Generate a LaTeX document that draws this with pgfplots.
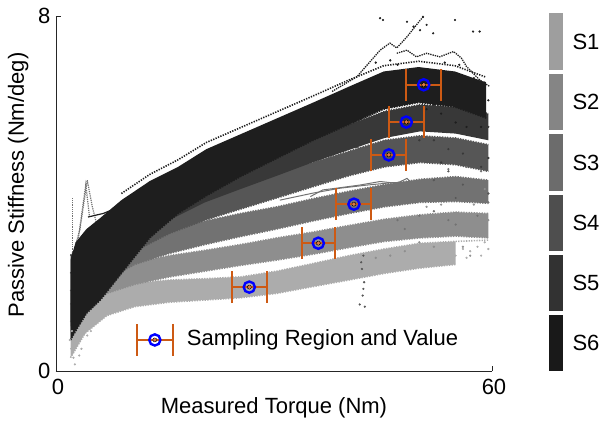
\documentclass[border=0pt]{standalone}
\usepackage{fontspec}
\setmainfont{Liberation Sans}
\usepackage{pgfplots}
\pgfplotsset{compat=1.18}
\definecolor{cA}{RGB}{172,172,172}
\definecolor{cB}{RGB}{142,142,142}
\definecolor{cC}{RGB}{114,114,114}
\definecolor{cD}{RGB}{86,86,86}
\definecolor{cE}{RGB}{56,56,56}
\definecolor{cF}{RGB}{30,30,30}
\definecolor{bA}{RGB}{158,158,158}
\definecolor{bB}{RGB}{133,133,133}
\definecolor{bC}{RGB}{108,108,108}
\definecolor{bD}{RGB}{78,78,78}
\definecolor{bE}{RGB}{50,50,50}
\definecolor{bF}{RGB}{25,25,25}
\definecolor{eb}{RGB}{205,90,20}
\begin{document}
\begin{tikzpicture}[font=\fontsize{22}{26}\selectfont]
\useasboundingbox (-56pt,-55pt) rectangle (550pt,371pt);
\begin{axis}[
  at={(0pt,0pt)}, anchor=south west, scale only axis, width=436pt, height=355pt,
  xmin=0, xmax=60, ymin=0, ymax=8,
  axis x line=bottom, axis y line=left,
  axis line style={-, line width=0.9pt, black!85},
  xtick={0,60}, ytick={0,8}, tick align=inside, major tick length=5pt,
  tick style={line width=0.9pt, black!85},
  /pgf/number format/assume math mode=true,
  xlabel={Measured Torque (Nm)}, ylabel={Passive Stiffness (Nm/deg)},
  xlabel style={at={(axis description cs:0.5,-0.104)}, anchor=center},
  ylabel style={at={(axis description cs:-0.087,0.524)}, anchor=center},
  ticklabel style={font=\fontsize{22}{26}\selectfont},
  xticklabel style={yshift=-5pt, xshift=2pt},
  yticklabel style={xshift=-2pt},
  clip=false,
  bd/.style={line width=1.6pt, dash pattern=on 1.3pt off 1.3pt},
  sc/.style={only marks, mark=*, mark size=0.9pt},
]
% ---------- S1 ----------
\addplot[fill=cA, draw=none] coordinates {(2,0.3) (4,0.85) (7,1.25) (10.8,1.45) (15.6,1.55) (20.5,1.6) (25.4,1.65) (30.4,1.75) (35.3,1.9) (40.3,2.05) (45.2,2.2) (50.1,2.32) (55,2.4) (55,2.92) (50.1,2.88) (45.2,2.75) (40.3,2.6) (35.3,2.42) (30.4,2.25) (25.4,2.12) (20.5,2.08) (15.6,2.05) (10.8,1.98) (7,1.85) (4,1.55) (2,1.1)} -- cycle;
\addplot[cA, bd] coordinates {(2,1.1) (4,1.55) (7,1.85) (10.8,1.98) (15.6,2.05) (20.5,2.08) (25.4,2.12) (30.4,2.25) (35.3,2.42) (40.3,2.6) (45.2,2.75) (50.1,2.88) (55,2.92) (59.5,2.95)};
\addplot[cA, bd] coordinates {(2,0.3) (4,0.85) (7,1.25) (10.8,1.45) (15.6,1.55) (20.5,1.6) (25.4,1.65) (30.4,1.75) (35.3,1.9) (40.3,2.05) (45.2,2.2) (50.1,2.32) (55,2.4)};
\addplot[cA, sc] coordinates {(55,2.6) (56,2.75) (57,2.7) (58,2.8) (59,2.9) (59.5,2.75) (56.5,2.55) (58.5,2.6) (2.1,0.5) (2.4,0.3) (3.0,0.7) (2.2,0.9) (3.5,0.5) (2.6,0.15) (4.3,0.8) (4.8,0.9) (1.9,0.7) (3.2,0.35)};
% ---------- S2 ----------
\addplot[fill=cB, draw=none] coordinates {(2,0.7) (4,1.35) (7,1.75) (10.8,1.95) (15.6,2.12) (20.5,2.25) (25.4,2.38) (30.4,2.5) (35.3,2.63) (40.3,2.78) (45.2,2.92) (50.1,3.0) (55,3.04) (59.5,3.0) (59.5,3.55) (55,3.58) (50.1,3.52) (45.2,3.42) (40.3,3.28) (35.3,3.13) (30.4,3.0) (25.4,2.85) (20.5,2.72) (15.6,2.6) (10.8,2.45) (7,2.3) (4,2.0) (2,1.5)} -- cycle;
\addplot[cB, bd] coordinates {(2,1.5) (4,2.0) (7,2.3) (10.8,2.45) (15.6,2.6) (20.5,2.72) (25.4,2.85) (30.4,3.0) (35.3,3.13) (40.3,3.28) (45.2,3.42) (50.1,3.52) (55,3.58) (59.5,3.55)};
\addplot[cB, bd] coordinates {(4,1.35) (7,1.75) (10.8,1.95) (15.6,2.12) (20.5,2.25) (25.4,2.38) (30.4,2.5) (35.3,2.63) (40.3,2.78) (45.2,2.92) (50.1,3.0) (55,3.04) (59.5,3.0)};
\addplot[cB, sc] coordinates {(48,2.7) (50,2.9) (52,2.8) (54,3.2) (56,2.8) (58,3.1) (59.5,3.4) (46,2.6) (44,2.55) (57,2.6) (53,3.75) (55,3.9) (57.5,3.75) (59,4.1) (51,3.7)};
% ---------- S3 ----------
\addplot[fill=cC, draw=none] coordinates {(2,0.9) (4,1.6) (7,2.05) (10.8,2.4) (15.6,2.65) (20.5,2.85) (25.4,3.03) (30.4,3.2) (35.3,3.38) (40.3,3.55) (45.2,3.7) (50.1,3.8) (55,3.82) (59.5,3.78) (59.5,4.3) (55,4.38) (50.1,4.32) (45.2,4.2) (40.3,4.05) (35.3,3.88) (30.4,3.7) (25.4,3.55) (20.5,3.38) (15.6,3.2) (10.8,3.0) (7,2.75) (4,2.4) (2,1.8)} -- cycle;
\addplot[cC, bd] coordinates {(2,1.8) (4,2.4) (7,2.75) (10.8,3.0) (15.6,3.2) (20.5,3.38) (25.4,3.55) (30.4,3.7) (35.3,3.88) (40.3,4.05) (45.2,4.2) (50.1,4.32) (55,4.38) (59.5,4.3)};
\addplot[cC, bd] coordinates {(4,1.6) (7,2.05) (10.8,2.4) (15.6,2.65) (20.5,2.85) (25.4,3.03) (30.4,3.2) (35.3,3.38) (40.3,3.55) (45.2,3.7) (50.1,3.8) (55,3.82) (59.5,3.78)};
\addplot[cC, line width=1pt] coordinates {(30.8,3.85) (35.4,4.01) (39.1,4.12) (42.8,4.19) (46.0,4.24) (48.3,4.26) (50,4.2)};
\addplot[cC, line width=1pt] coordinates {(35.0,3.93) (36.7,4.08) (38.6,4.12) (41.8,4.19) (44.6,4.27) (46.9,4.23) (48.3,4.34) (49.6,4.15) (51,4.3)};
\addplot[cC, sc] coordinates {(52,3.6) (54,3.4) (56,3.9) (58,3.5) (59.5,3.8) (55,3.3) (50,3.5) (47,3.4) (48,3.2) (58.5,4.5) (56.5,4.6) (54,4.55)};
\addplot[cC, densely dotted, line width=1.2pt] coordinates {(2.3,2.6) (3.3,3.2) (4.3,4.3) (5.0,3.7) (5.8,3.18)};
\addplot[cC, densely dotted, line width=1.2pt] coordinates {(3.0,2.9) (4.1,4.2) (4.6,3.5)};
\addplot[cC, densely dotted, line width=1.2pt] coordinates {(2.3,1.15) (2.3,3.9)};
% ---------- S4 ----------
\addplot[fill=cD, draw=none] coordinates {(2,1.0) (4,1.7) (7,2.25) (10.8,2.7) (15.6,3.1) (20.5,3.4) (25.4,3.65) (30.4,3.9) (35.3,4.15) (40.3,4.4) (45.2,4.6) (50.1,4.7) (55,4.65) (59.5,4.5) (59.5,5.1) (55,5.25) (50.1,5.3) (45.2,5.2) (40.3,4.95) (35.3,4.7) (30.4,4.45) (25.4,4.2) (20.5,3.95) (15.6,3.7) (10.8,3.4) (7,3.1) (4,2.7) (2,2.2)} -- cycle;
\addplot[cD, bd] coordinates {(2,2.2) (4,2.7) (7,3.1) (10.8,3.4) (15.6,3.7) (20.5,3.95) (25.4,4.2) (30.4,4.45) (35.3,4.7) (40.3,4.95) (45.2,5.2) (50.1,5.3) (55,5.25) (59.5,5.1)};
\addplot[cD, bd] coordinates {(10.8,2.7) (15.6,3.1) (20.5,3.4) (25.4,3.65) (30.4,3.9) (35.3,4.15) (40.3,4.4) (45.2,4.6) (50.1,4.7) (55,4.65) (59.5,4.5)};
\addplot[cD, line width=1pt] coordinates {(30.8,4.9) (33.6,5.0) (36.5,5.05) (40,5.1) (42.2,5.0)};
\addplot[cD, sc] coordinates {(52,4.3) (54,4.5) (56,4.2) (58,4.6) (59.5,4.0) (57,4.9) (53,4.8) (55,3.9) (42.3,2.6) (42.1,2.3) (42.4,2.0) (42.2,1.7) (42.5,1.45) (41.8,1.5) (42.0,2.45) (42.3,1.85)};
% ---------- S5 ----------
\addplot[fill=cE, draw=none] coordinates {(2,1.1) (4,1.8) (7,2.45) (10.8,2.95) (15.6,3.4) (20.5,3.8) (25.4,4.1) (30.4,4.4) (35.3,4.7) (40.3,4.98) (45.2,5.25) (50.1,5.4) (55,5.35) (59.5,5.2) (59.5,5.8) (55,5.95) (50.1,6.0) (45.2,5.85) (40.3,5.55) (35.3,5.3) (30.4,5.0) (25.4,4.75) (20.5,4.45) (15.6,4.1) (10.8,3.75) (7,3.4) (4,3.0) (2,2.6)} -- cycle;
\addplot[cE, bd] coordinates {(2,2.6) (4,3.0) (7,3.4) (10.8,3.75) (15.6,4.1) (20.5,4.45) (25.4,4.75) (30.4,5.0) (35.3,5.3) (40.3,5.55) (45.2,5.85) (50.1,6.0) (55,5.95) (59.5,5.8)};
\addplot[cE, sc] coordinates {(52,5.2) (54,5.0) (56,4.9) (58,5.3) (59.5,4.8) (57,5.6) (55,5.4) (53,4.7) (50,5.2) (58.5,4.6) (59.5,5.5)};
% ---------- S6 ----------
\addplot[fill=cF, draw=none] coordinates {(2.0,0.7) (2.7,0.9) (4.2,1.3) (6.1,1.6) (9.0,2.2) (12.9,3.0) (16.8,3.55) (20.7,3.95) (25.6,4.4) (30.5,4.8) (35.4,5.2) (40.2,5.55) (45.1,5.9) (49.9,6.05) (54.9,5.95) (59.2,5.7) (59.2,6.5) (54.9,6.75) (49.9,6.85) (45.1,6.75) (40.2,6.4) (35.4,6.05) (30.5,5.7) (25.6,5.35) (20.7,5.0) (16.8,4.6) (12.9,4.28) (9.0,3.85) (6.1,3.45) (4.2,3.2) (2.7,2.9) (2.0,2.5)} -- cycle;
\addplot[cF, bd] coordinates {(9.0,4.0) (12.9,4.43) (16.8,4.76) (20.7,5.15) (25.6,5.5) (30.5,5.85) (35.4,6.2) (40.2,6.55) (45.1,6.88) (49.9,6.98) (54.9,6.88) (59.2,6.62)};
\addplot[cF, bd] coordinates {(2.0,0.7) (2.7,0.9) (4.2,1.3) (6.1,1.6) (9.0,2.2) (12.9,3.0) (16.8,3.55) (20.7,3.95) (25.6,4.4) (30.5,4.8) (35.4,5.2) (40.2,5.55) (45.1,5.9) (49.9,6.05) (54.9,5.95) (59.2,5.7)};
\addplot[cF, densely dotted, line width=1.3pt] coordinates {(38,6.3) (41.4,6.63) (44.6,7.23) (45.95,7.39) (46.9,7.28) (48.3,7.53) (49.6,7.8) (50.5,7.98)};
\addplot[cF, densely dotted, line width=1.3pt] coordinates {(46.9,7.16) (48.3,7.23) (49.6,7.08) (51.0,7.16) (52.8,7.08) (54.7,7.2) (55.8,7.05) (56.5,6.86) (57.4,6.71) (58.3,6.56) (59.7,6.41)};
\addplot[cF, sc] coordinates {(44.6,7.95) (45.0,7.91) (48.3,7.87) (49.2,7.76) (50.5,7.98) (51.0,7.8) (54.9,7.91) (57.4,7.65) (58.3,7.65) (51.9,7.61) (50.1,7.68) (52,6.0) (53,5.8) (54,6.1) (55,5.6) (56,6.3) (57,5.9) (58,6.2) (59,5.8) (59.5,6.1) (56.5,5.5) (58.5,5.5) (53.5,6.95) (55.5,6.9) (57.5,6.6) (59,6.5) (51,5.9) (47,6.9) (46,7.0) (44,6.95)};
\addplot[cF, line width=1.2pt] coordinates {(4.4,3.47) (6.5,3.55) (8,3.65) (9.9,3.74)};
\addplot[cF, line width=1.2pt] coordinates {(3.3,1.15) (5.1,1.6) (7.4,2.1) (8.1,2.34)};
% ---------- sampling regions ----------
\addplot[only marks, mark=none, error bars/.cd, x dir=both, x explicit,
  error bar style={eb, line width=2pt},
  error mark options={eb, line width=2pt, mark size=16pt, rotate=90}]
  coordinates {(26.6,1.89) +- (2.4,0) (36.1,2.88) +- (2.3,0) (41.0,3.76) +- (2.4,0) (45.8,4.87) +- (2.4,0) (48.2,5.61) +- (2.4,0) (50.6,6.45) +- (2.4,0) (13.6,0.70) +- (2.5,0)};
\addplot[only marks, mark=o, mark size=5.6pt, blue, line width=2.4pt]
  coordinates {(26.6,1.89) (36.1,2.88) (41.0,3.76) (45.8,4.87) (48.2,5.61) (50.6,6.45) (13.6,0.70)};
\addplot[only marks, mark=*, mark size=1.6pt, color=eb!70!pink]
  coordinates {(26.6,1.89) (36.1,2.88) (41.0,3.76) (45.8,4.87) (48.2,5.61) (50.6,6.45) (13.6,0.70)};
\node[anchor=west, inner sep=0pt] at (axis cs:18.0,0.70) {Sampling Region and Value};
\end{axis}
% ---------- colour key ----------
\fill[bA] (493pt,301pt) rectangle (507pt,358pt);
\fill[bB] (493pt,241pt) rectangle (507pt,297pt);
\fill[bC] (493pt,180pt) rectangle (507pt,237pt);
\fill[bD] (493pt,120pt) rectangle (507pt,176pt);
\fill[bE] (493pt,60pt) rectangle (507pt,116pt);
\fill[bF] (493pt,0pt) rectangle (507pt,56pt);
\node at (530pt,329pt) {S1};
\node at (530pt,269pt) {S2};
\node at (530pt,208pt) {S3};
\node at (530pt,148pt) {S4};
\node at (530pt,88pt) {S5};
\node at (530pt,28pt) {S6};
\end{tikzpicture}
\end{document}
